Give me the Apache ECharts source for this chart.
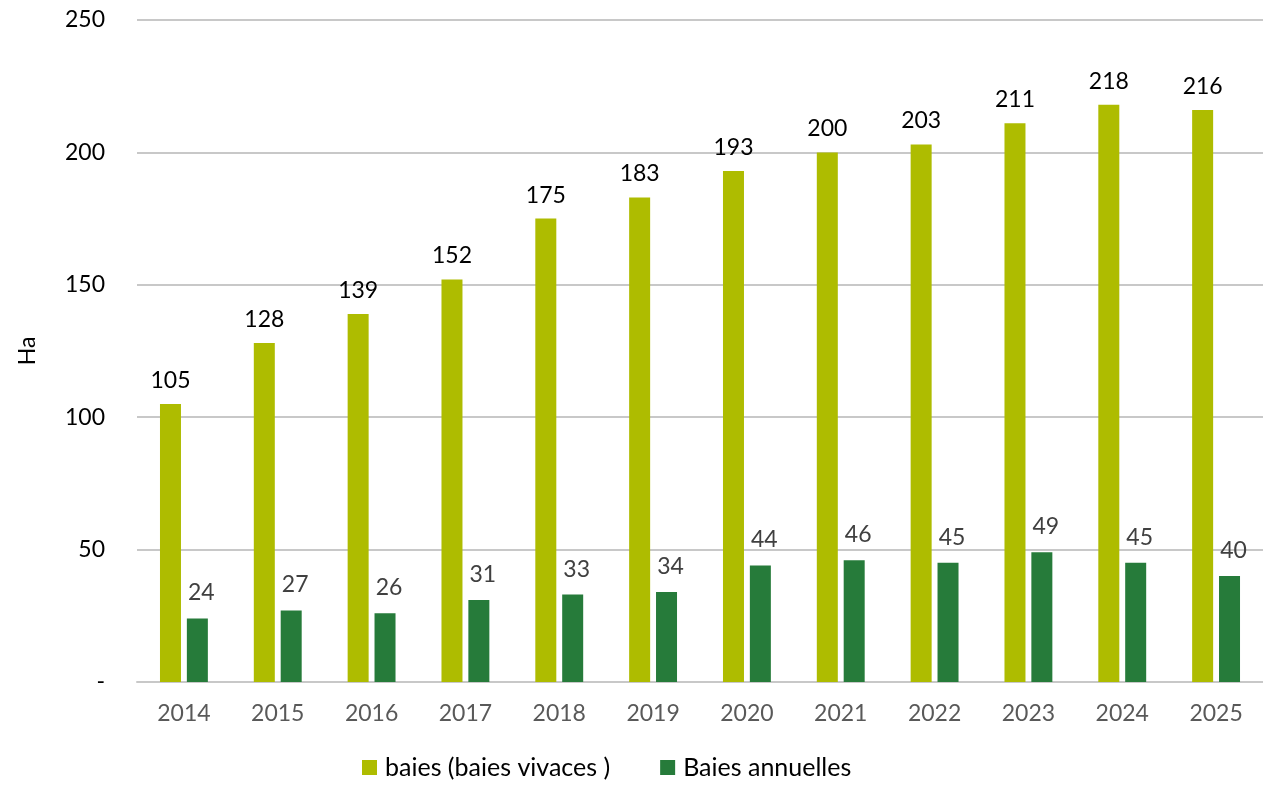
<!DOCTYPE html>
<html>
<head>
<meta charset="utf-8">
<script src="https://cdn.jsdelivr.net/npm/echarts@6/dist/echarts.min.js"></script>
<style>
  html, body { margin: 0; padding: 0; background: #fff; }
  #chart { width: 1263px; height: 787px; }
</style>
</head>
<body>
<div id="chart"></div>
<script>
const years = ['2014', '2015', '2016', '2017', '2018', '2019', '2020', '2021', '2022', '2023', '2024', '2025'];
const baiesVivaces = [105, 128, 139, 152, 175, 183, 193, 200, 203, 211, 218, 216];
const baiesAnnuelles = [24, 27, 26, 31, 33, 34, 44, 46, 45, 49, 45, 40];

const font = 'Lato, "DejaVu Sans", sans-serif';
const chart = echarts.init(document.getElementById('chart'));

chart.setOption({
  animation: false,
  textStyle: { fontFamily: font },
  grid: {
    left: 137,
    right: 0,
    top: 20,
    bottom: 105
  },
  legend: {
    bottom: 2,
    left: 357,
    itemWidth: 15,
    itemHeight: 15,
    itemGap: 50,
    icon: 'rect',
    textStyle: { fontSize: 25, color: '#000', fontFamily: font, padding: [0, 0, 0, 3] },
    data: ['baies (baies vivaces )', 'Baies annuelles']
  },
  xAxis: {
    type: 'category',
    data: years,
    axisTick: { show: false },
    axisLine: { lineStyle: { color: '#c8c8c8', width: 2 } },
    axisLabel: { color: '#595959', fontSize: 23, margin: 20 }
  },
  yAxis: {
    type: 'value',
    name: 'Ha',
    nameLocation: 'middle',
    nameGap: 98,
    nameRotate: 90,
    nameTextStyle: { color: '#000', fontSize: 23 },
    min: 0,
    max: 250,
    interval: 50,
    axisLabel: {
      color: '#000',
      fontSize: 23,
      margin: 32,
      formatter: v => (v === 0 ? '-' : v)
    },
    splitLine: { lineStyle: { color: '#c8c8c8', width: 2 } }
  },
  series: [
    {
      name: 'baies (baies vivaces )',
      type: 'bar',
      data: baiesVivaces,
      barWidth: 21,
      barGap: '28%',
      itemStyle: { color: '#aebc00' },
      label: {
        show: true,
        position: 'top',
        distance: 12,
        color: '#000',
        fontSize: 23
      }
    },
    {
      name: 'Baies annuelles',
      type: 'bar',
      data: baiesAnnuelles,
      barWidth: 21,
      itemStyle: { color: '#267b3a' },
      label: {
        show: true,
        position: 'top',
        distance: 14,
        offset: [4, 0],
        color: '#404040',
        fontSize: 23
      }
    }
  ]
});
</script>
</body>
</html>
